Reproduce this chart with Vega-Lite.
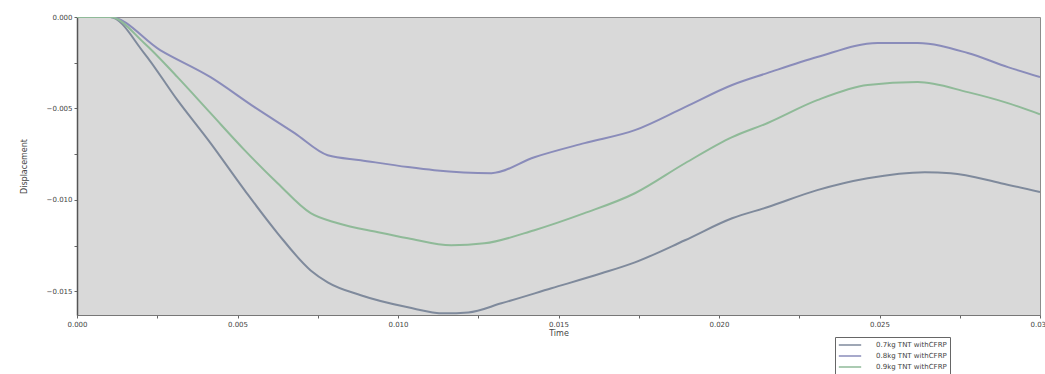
{
  "$schema": "https://vega.github.io/schema/vega-lite/v6.json",
  "width": 963,
  "height": 298,
  "autosize": {"type": "none"},
  "padding": {"left": 77, "top": 17, "right": 5, "bottom": 59},
  "background": "white",
  "config": {
    "view": {"fill": "#d9d9d9", "stroke": "#8c8c8c", "strokeWidth": 1},
    "font": "DejaVu Sans"
  },
  "data": {
    "values": [
      {"series": "0.7kg TNT withCFRP", "t": 0, "d": 0},
      {"series": "0.7kg TNT withCFRP", "t": 0.00103, "d": 0},
      {"series": "0.7kg TNT withCFRP", "t": 0.00209, "d": -0.00197},
      {"series": "0.7kg TNT withCFRP", "t": 0.00313, "d": -0.00455},
      {"series": "0.7kg TNT withCFRP", "t": 0.00416, "d": -0.0069},
      {"series": "0.7kg TNT withCFRP", "t": 0.00522, "d": -0.00947},
      {"series": "0.7kg TNT withCFRP", "t": 0.00625, "d": -0.01183},
      {"series": "0.7kg TNT withCFRP", "t": 0.00728, "d": -0.01386},
      {"series": "0.7kg TNT withCFRP", "t": 0.00781, "d": -0.01451},
      {"series": "0.7kg TNT withCFRP", "t": 0.00884, "d": -0.01522},
      {"series": "0.7kg TNT withCFRP", "t": 0.01031, "d": -0.01588},
      {"series": "0.7kg TNT withCFRP", "t": 0.01144, "d": -0.01621},
      {"series": "0.7kg TNT withCFRP", "t": 0.01219, "d": -0.01616},
      {"series": "0.7kg TNT withCFRP", "t": 0.01322, "d": -0.01566},
      {"series": "0.7kg TNT withCFRP", "t": 0.01478, "d": -0.01484},
      {"series": "0.7kg TNT withCFRP", "t": 0.01634, "d": -0.01402},
      {"series": "0.7kg TNT withCFRP", "t": 0.01738, "d": -0.01342},
      {"series": "0.7kg TNT withCFRP", "t": 0.01894, "d": -0.01221},
      {"series": "0.7kg TNT withCFRP", "t": 0.02041, "d": -0.01101},
      {"series": "0.7kg TNT withCFRP", "t": 0.0215, "d": -0.01041},
      {"series": "0.7kg TNT withCFRP", "t": 0.02306, "d": -0.00947},
      {"series": "0.7kg TNT withCFRP", "t": 0.02463, "d": -0.00882},
      {"series": "0.7kg TNT withCFRP", "t": 0.02641, "d": -0.00849},
      {"series": "0.7kg TNT withCFRP", "t": 0.02722, "d": -0.00854},
      {"series": "0.7kg TNT withCFRP", "t": 0.02878, "d": -0.00909},
      {"series": "0.7kg TNT withCFRP", "t": 0.03, "d": -0.00958},

      {"series": "0.8kg TNT withCFRP", "t": 0, "d": 0},
      {"series": "0.8kg TNT withCFRP", "t": 0.00103, "d": 0},
      {"series": "0.8kg TNT withCFRP", "t": 0.00259, "d": -0.00181},
      {"series": "0.8kg TNT withCFRP", "t": 0.00416, "d": -0.00329},
      {"series": "0.8kg TNT withCFRP", "t": 0.00553, "d": -0.00493},
      {"series": "0.8kg TNT withCFRP", "t": 0.00678, "d": -0.00635},
      {"series": "0.8kg TNT withCFRP", "t": 0.00781, "d": -0.00756},
      {"series": "0.8kg TNT withCFRP", "t": 0.00884, "d": -0.00783},
      {"series": "0.8kg TNT withCFRP", "t": 0.01031, "d": -0.00821},
      {"series": "0.8kg TNT withCFRP", "t": 0.01113, "d": -0.00838},
      {"series": "0.8kg TNT withCFRP", "t": 0.01291, "d": -0.00854},
      {"series": "0.8kg TNT withCFRP", "t": 0.01425, "d": -0.00767},
      {"series": "0.8kg TNT withCFRP", "t": 0.01581, "d": -0.0069},
      {"series": "0.8kg TNT withCFRP", "t": 0.01738, "d": -0.00619},
      {"series": "0.8kg TNT withCFRP", "t": 0.01894, "d": -0.00493},
      {"series": "0.8kg TNT withCFRP", "t": 0.02041, "d": -0.00372},
      {"series": "0.8kg TNT withCFRP", "t": 0.0215, "d": -0.00307},
      {"series": "0.8kg TNT withCFRP", "t": 0.02306, "d": -0.00219},
      {"series": "0.8kg TNT withCFRP", "t": 0.02494, "d": -0.00142},
      {"series": "0.8kg TNT withCFRP", "t": 0.02619, "d": -0.00142},
      {"series": "0.8kg TNT withCFRP", "t": 0.02775, "d": -0.00197},
      {"series": "0.8kg TNT withCFRP", "t": 0.029, "d": -0.00274},
      {"series": "0.8kg TNT withCFRP", "t": 0.03, "d": -0.00328},

      {"series": "0.9kg TNT withCFRP", "t": 0, "d": 0},
      {"series": "0.9kg TNT withCFRP", "t": 0.00103, "d": 0},
      {"series": "0.9kg TNT withCFRP", "t": 0.00209, "d": -0.00142},
      {"series": "0.9kg TNT withCFRP", "t": 0.00313, "d": -0.00329},
      {"series": "0.9kg TNT withCFRP", "t": 0.00416, "d": -0.00526},
      {"series": "0.9kg TNT withCFRP", "t": 0.00522, "d": -0.00728},
      {"series": "0.9kg TNT withCFRP", "t": 0.00625, "d": -0.00909},
      {"series": "0.9kg TNT withCFRP", "t": 0.00728, "d": -0.01073},
      {"series": "0.9kg TNT withCFRP", "t": 0.00813, "d": -0.01128},
      {"series": "0.9kg TNT withCFRP", "t": 0.00938, "d": -0.01177},
      {"series": "0.9kg TNT withCFRP", "t": 0.01031, "d": -0.0121},
      {"series": "0.9kg TNT withCFRP", "t": 0.01166, "d": -0.01249},
      {"series": "0.9kg TNT withCFRP", "t": 0.01269, "d": -0.01238},
      {"series": "0.9kg TNT withCFRP", "t": 0.01425, "d": -0.01166},
      {"series": "0.9kg TNT withCFRP", "t": 0.01581, "d": -0.01073},
      {"series": "0.9kg TNT withCFRP", "t": 0.01738, "d": -0.00964},
      {"series": "0.9kg TNT withCFRP", "t": 0.01894, "d": -0.008},
      {"series": "0.9kg TNT withCFRP", "t": 0.02041, "d": -0.00657},
      {"series": "0.9kg TNT withCFRP", "t": 0.0215, "d": -0.00581},
      {"series": "0.9kg TNT withCFRP", "t": 0.02306, "d": -0.00455},
      {"series": "0.9kg TNT withCFRP", "t": 0.02463, "d": -0.00372},
      {"series": "0.9kg TNT withCFRP", "t": 0.02619, "d": -0.00356},
      {"series": "0.9kg TNT withCFRP", "t": 0.02775, "d": -0.00411},
      {"series": "0.9kg TNT withCFRP", "t": 0.029, "d": -0.00471},
      {"series": "0.9kg TNT withCFRP", "t": 0.03, "d": -0.00532}
    ]
  },
  "mark": {"type": "line", "strokeWidth": 2, "clip": true, "interpolate": "monotone"},
  "encoding": {
    "x": {
      "field": "t",
      "type": "quantitative",
      "scale": {"domain": [0, 0.03], "nice": false, "zero": false},
      "axis": {
        "title": "Time",
        "titleFontSize": 8,
        "titleFontWeight": "normal",
        "titleColor": "#444444",
        "titlePadding": 2,
        "values": [0, 0.0025, 0.005, 0.0075, 0.01, 0.0125, 0.015, 0.0175, 0.02, 0.0225, 0.025, 0.0275, 0.03],
        "labelExpr": "abs(datum.value / 0.005 - round(datum.value / 0.005)) < 0.001 ? format(datum.value, '.3f') : ''",
        "labelFontSize": 7,
        "labelColor": "#444444",
        "labelPadding": 2,
        "labelFlush": false,
        "tickSize": 3,
        "tickColor": "#666666",
        "domainColor": "#777777",
        "grid": false
      }
    },
    "y": {
      "field": "d",
      "type": "quantitative",
      "scale": {"domain": [-0.0163, 0], "nice": false, "zero": false},
      "axis": {
        "title": "Displacement",
        "titleFontSize": 8,
        "titleFontWeight": "normal",
        "titleColor": "#444444",
        "titlePadding": 18,
        "values": [0, -0.0025, -0.005, -0.0075, -0.01, -0.0125, -0.015],
        "labelExpr": "abs(datum.value / 0.005 - round(datum.value / 0.005)) < 0.001 ? format(datum.value, '.3f') : ''",
        "labelFontSize": 7,
        "labelColor": "#444444",
        "labelPadding": 2,
        "tickSize": 3,
        "tickColor": "#666666",
        "domainColor": "#555555",
        "domainWidth": 1.5,
        "grid": false
      }
    },
    "color": {
      "field": "series",
      "type": "nominal",
      "scale": {
        "domain": ["0.7kg TNT withCFRP", "0.8kg TNT withCFRP", "0.9kg TNT withCFRP"],
        "range": ["#7f8a9c", "#8a8cba", "#8fba98"]
      },
      "legend": {
        "title": null,
        "orient": "none",
        "legendX": 758,
        "legendY": 320,
        "symbolType": "stroke",
        "symbolSize": 500,
        "symbolStrokeWidth": 1.5,
        "clipHeight": 10,
        "labelFontSize": 7,
        "labelColor": "#444444",
        "labelOffset": 14,
        "rowPadding": 1,
        "padding": 3,
        "strokeColor": "#666666",
        "fillColor": "white"
      }
    }
  }
}
